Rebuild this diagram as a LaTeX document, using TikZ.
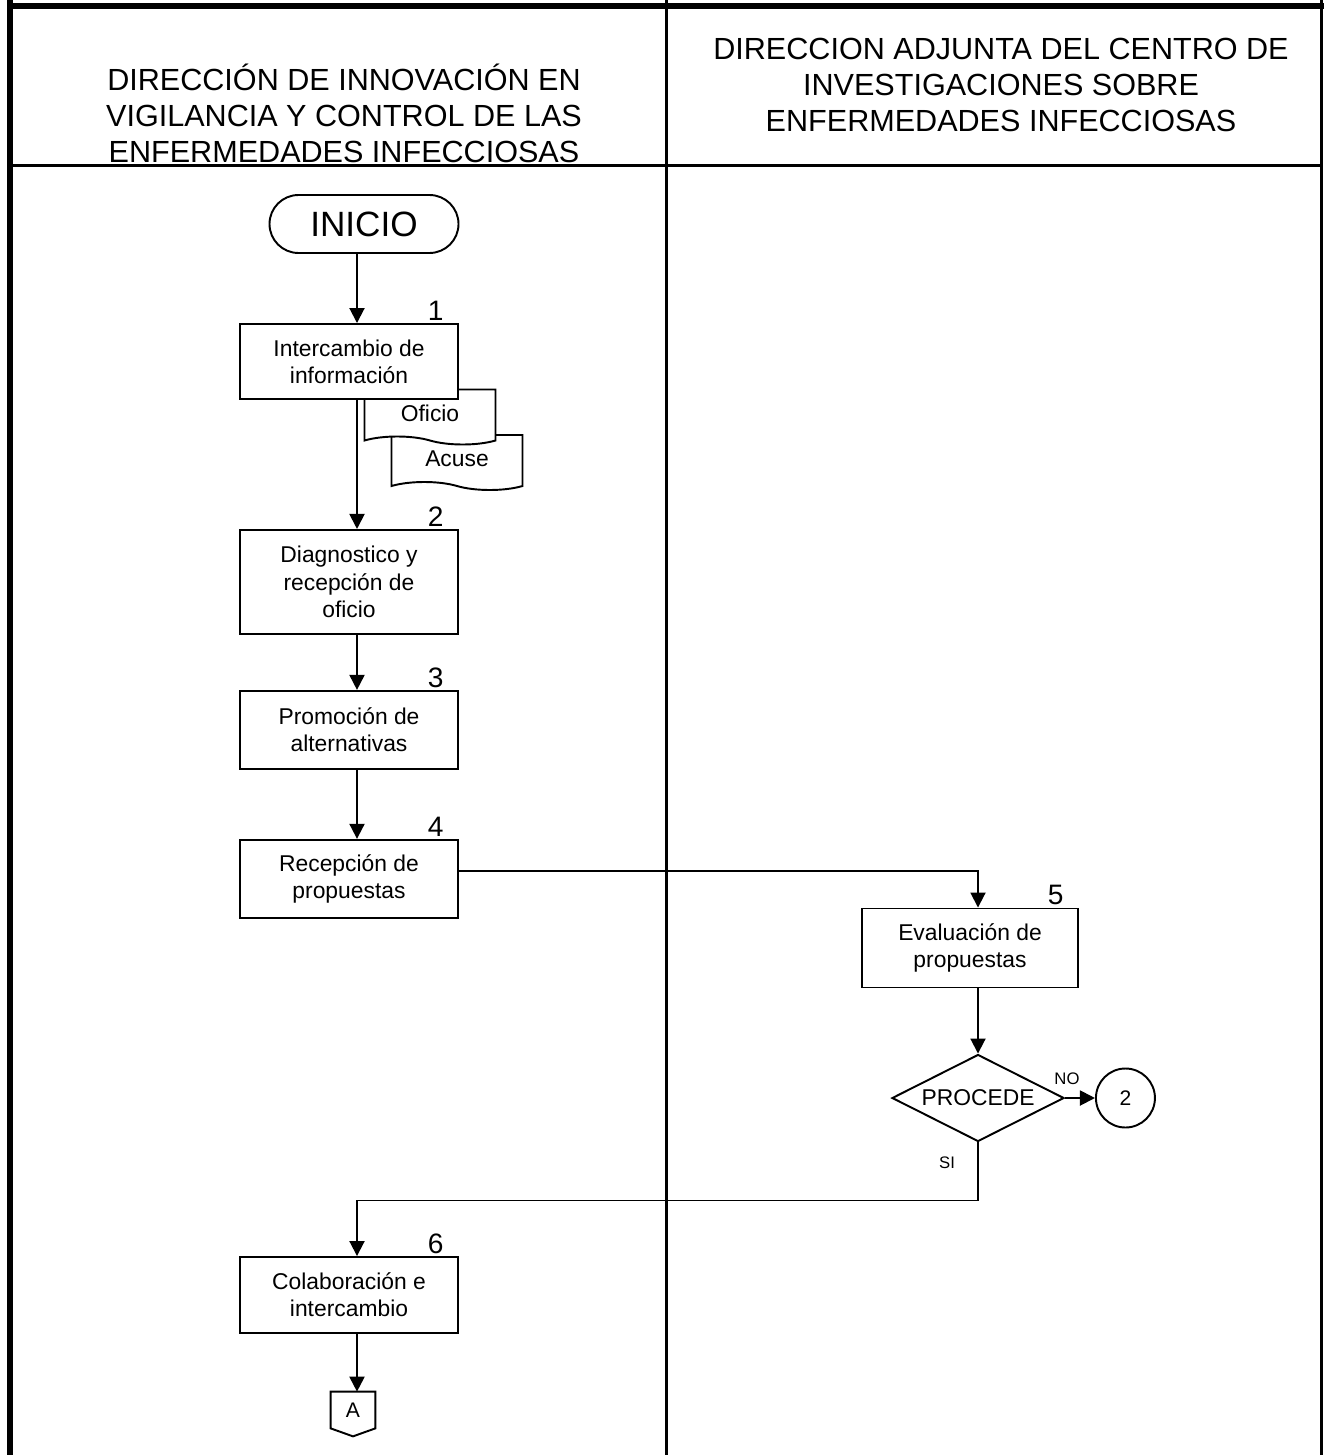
\documentclass[tikz,border=0pt]{standalone}
\usepackage{fontspec}
\setmainfont{Liberation Sans}
\usetikzlibrary{positioning,arrows.meta,shapes.geometric,shapes.symbols}

\begin{document}
\begin{tikzpicture}[
  every node/.style={font=\fontsize{13}{15.5}\selectfont},
  proc/.style={draw,fill=white,line width=1.1pt,minimum width=4.36cm,align=center,inner sep=2pt},
  num/.style={font=\fontsize{16}{18}\selectfont,inner sep=0pt,anchor=south east},
  docpage/.style={draw,fill=white,line width=1.1pt,tape,tape bend top=none,tape bend bottom=out and in,tape bend height=0.16cm,minimum width=2.62cm,minimum height=1.1cm,inner sep=0pt},
  flow/.style={line width=1.1pt},
  arr/.style={flow,-{Triangle[length=3mm,width=3mm]}},
  lane/.style={line width=0.06cm},
  head/.style={align=center,font=\fontsize{17.4}{20.4}\selectfont}
]
\useasboundingbox (0,0) rectangle (26.46,-29.1);

\draw[line width=0.12cm] (0.2,0.1) -- (0.2,-29.3);
\draw[line width=0.12cm] (0.14,-0.12) -- (26.6,-0.12);
\draw[lane] (26.43,0) -- (26.43,-29.3);
\draw[lane] (13.33,0) -- (13.33,-29.3);
\draw[lane] (0.2,-3.31) -- (26.46,-3.31);

\node[head] (hleft) at (6.88,-2.27) {DIRECCIÓN DE INNOVACIÓN EN\\VIGILANCIA Y CONTROL DE LAS\\ENFERMEDADES INFECCIOSAS};
\node[head] (hright) at (20.02,-1.7) {DIRECCION ADJUNTA DEL CENTRO DE\\INVESTIGACIONES SOBRE\\ENFERMEDADES INFECCIOSAS};

\node[docpage] (acuse) at (9.14,-9.17) {Acuse};
\node[docpage] (oficio) at (8.6,-8.26) {Oficio};

\node[draw,line width=1.1pt,rounded corners=0.58cm,minimum width=3.78cm,minimum height=1.16cm,font=\fontsize{20}{24}\selectfont] (inicio) at (7.28,-4.48) {INICIO};
\node[proc,minimum height=1.5cm] (box1) at (6.98,-7.23) {Intercambio de\\información};
\node[proc,minimum height=2.08cm,below=2.58cm of box1] (box2) {Diagnostico y\\recepción de\\oficio};
\node[proc,minimum height=1.56cm,below=1.1cm of box2] (box3) {Promoción de\\alternativas};
\node[proc,minimum height=1.56cm,below=1.38cm of box3] (box4) {Recepción de\\propuestas};
\node[proc,minimum width=4.32cm,minimum height=1.58cm] (box5) at (19.4,-18.96) {Evaluación de\\propuestas};
\node[draw,diamond,line width=1.1pt,aspect=2,inner sep=0pt,minimum width=3.44cm,minimum height=1.74cm] (dia) at (19.56,-21.96) {PROCEDE};
\node[draw,circle,line width=1.1pt,inner sep=0pt,minimum size=1.18cm,right=0.6cm of dia,font=\fontsize{12}{14}\selectfont] (c2) {2};
\node[proc,minimum height=1.52cm] (box6) at (6.98,-25.9) {Colaboración e\\intercambio};
\node[minimum width=0.88cm,minimum height=0.72cm,inner sep=0pt,font=\fontsize{12}{14}\selectfont] (offA) at (7.06,-28.2) {A};
\draw[line width=1.1pt] (offA.north west) -- (offA.north east) -- (offA.south east) -- ([yshift=-0.16cm]offA.south) -- (offA.south west) -- cycle;

\node[num] (n1) at ([xshift=-0.3cm,yshift=0.04cm]box1.north east) {1};
\node[num] (n2) at ([xshift=-0.3cm,yshift=0.04cm]box2.north east) {2};
\node[num] (n3) at ([xshift=-0.3cm,yshift=0.04cm]box3.north east) {3};
\node[num] (n4) at ([xshift=-0.3cm,yshift=0.04cm]box4.north east) {4};
\node[num] (n5) at ([xshift=-0.3cm,yshift=0.04cm]box5.north east) {5};
\node[num] (n6) at ([xshift=-0.3cm,yshift=0.04cm]box6.north east) {6};

\node[font=\fontsize{9.5}{11}\selectfont] (lblno) at (21.34,-21.58) {NO};
\node[font=\fontsize{9.5}{11}\selectfont] (lblsi) at (18.94,-23.26) {SI};

\coordinate (lx) at (7.14,0);
\coordinate (rx) at (19.56,0);
\draw[arr] (inicio.south -| lx) -- (box1.north -| lx);
\draw[arr] (box1.south -| lx) -- (box2.north -| lx);
\draw[arr] (box2.south -| lx) -- (box3.north -| lx);
\draw[arr] (box3.south -| lx) -- (box4.north -| lx);
\draw[arr] ([yshift=0.16cm]box4.east) -| (box5.north -| rx);
\draw[arr] (box5.south -| rx) -- (dia.north);
\draw[arr] (dia.east) -- (c2.west);
\draw[arr] (dia.south) -- ++(0,-1.16) -| (box6.north -| lx);
\draw[arr] (box6.south -| lx) -- (offA.north -| lx);
\end{tikzpicture}
\end{document}
